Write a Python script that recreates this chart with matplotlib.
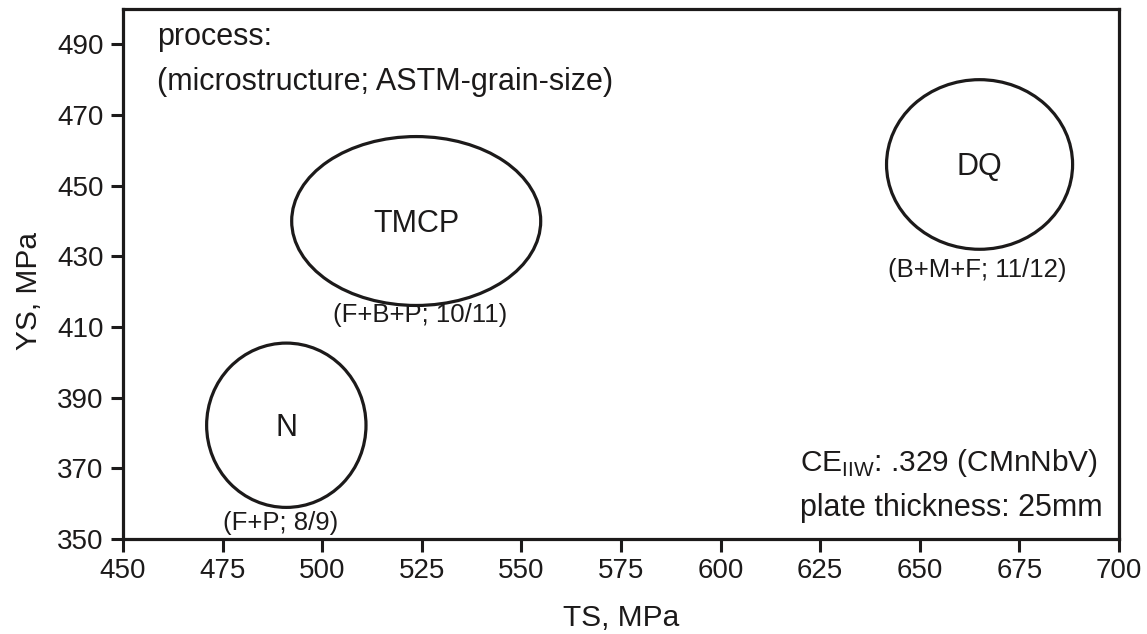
import matplotlib
matplotlib.use("Agg")
import matplotlib.pyplot as plt
from matplotlib.patches import Ellipse

plt.rcParams['font.family'] = ['Liberation Sans', 'DejaVu Sans']
plt.rcParams['mathtext.fontset'] = 'custom'
plt.rcParams['mathtext.rm'] = 'Liberation Sans'

# process windows: centre TS, centre YS, width (TS), height (YS)
processes = ['N', 'TMCP', 'DQ']
ts_centre = [491, 523.6, 665]
ys_centre = [382.2, 440, 456]
ts_width = [40, 62.5, 46.7]
ys_height = [46.5, 47.8, 48]
micro = ['(F+P; 8/9)', '(F+B+P; 10/11)', '(B+M+F; 11/12)']
micro_pos = [(489.5, 354.5), (524.5, 413.3), (664.5, 426)]

xticks = list(range(450, 701, 25))
yticks = list(range(350, 491, 20))

fig = plt.figure(figsize=(11.47, 6.34), dpi=100)
ax = fig.add_axes([0.1072, 0.1498, 0.8684, 0.836])

ink = '#1c1a1a'
for i in range(len(processes)):
    e = Ellipse((ts_centre[i], ys_centre[i]), ts_width[i], ys_height[i],
                fill=False, lw=2.3, edgecolor=ink)
    ax.add_patch(e)
    ax.text(ts_centre[i], ys_centre[i] - 0.8, processes[i], ha='center', va='center',
            fontsize=22, color=ink)
    ax.text(micro_pos[i][0], micro_pos[i][1], micro[i], ha='center', va='center',
            fontsize=18.5, color=ink)

ax.text(0.034, 0.947, 'process:', transform=ax.transAxes, fontsize=22,
        va='center', ha='left', color=ink)
ax.text(0.034, 0.862, '(microstructure; ASTM-grain-size)', transform=ax.transAxes,
        fontsize=22, va='center', ha='left', color=ink)
ax.text(0.68, 0.143, r'CE$_{\mathregular{IIW}}$: .329 (CMnNbV)', transform=ax.transAxes,
        fontsize=21.5, va='center', ha='left', color=ink)
ax.text(0.68, 0.058, 'plate thickness: 25mm', transform=ax.transAxes,
        fontsize=22, va='center', ha='left', color=ink)

ax.set_xlim(450, 700)
ax.set_ylim(350, 500)
ax.set_xticks(xticks)
ax.set_yticks(yticks)
ax.tick_params(direction='out', length=9, width=2.2, labelsize=20, colors=ink, pad=5)
for s in ax.spines.values():
    s.set_linewidth(2.3)
    s.set_color(ink)

ax.set_xlabel('TS, MPa', fontsize=21.5, color=ink)
ax.set_ylabel('YS, MPa', fontsize=21.5, color=ink)
ax.xaxis.set_label_coords(0.5, -0.122)
ax.yaxis.set_label_coords(-0.08, 0.468)

fig.savefig('out.png', dpi=100)
